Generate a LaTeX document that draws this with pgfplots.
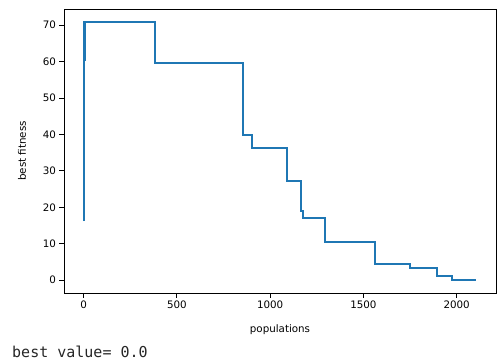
\documentclass[border=0pt]{standalone}
\usepackage{fontspec}
\setmainfont{DejaVu Sans}
\setmonofont{DejaVu Sans Mono}
\usepackage{pgfplots}
\pgfplotsset{compat=1.18}
\definecolor{mplblue}{HTML}{1F77B4}
\begin{document}
\begin{tikzpicture}[x=1bp,y=1bp]
\useasboundingbox (-64,-70) rectangle (433,293);
\begin{axis}[at={(0,0)}, anchor=south west, scale only axis,
  width=432bp, height=284bp,
  xmin=-105, xmax=2211, ymin=-3.55, ymax=74.45,
  xtick={0,500,1000,1500,2000}, ytick={0,10,20,30,40,50,60,70},
  xtick pos=bottom, ytick pos=left,
  tick align=outside, major tick length=4.5bp,
  tick style={black, line width=0.8bp},
  axis line style={line width=0.8bp},
  tick label style={font=\fontsize{10.3bp}{12bp}\selectfont},
  /pgf/number format/assume math mode=true,
  /pgf/number format/1000 sep={},
  xlabel={populations}, ylabel={best fitness},
  label style={font=\fontsize{10.3bp}{12bp}\selectfont},
  xlabel style={at={(axis description cs:0.5,-0.1303)}, anchor=center},
  ylabel style={at={(axis description cs:-0.0972,0.5)}, anchor=center},
]
\addplot[mplblue, line width=1.9bp, line join=miter] coordinates {
(0,16.2)(0,70.9)(7,70.9)(7,60.5)(9,60.5)(9,70.9)(385,70.9)(385,59.5)
(853,59.5)(853,39.8)(903,39.8)(903,36.2)(1089,36.2)(1089,27.3)
(1167,27.3)(1167,18.9)(1178,18.9)(1178,17.1)(1296,17.1)(1296,10.5)
(1564,10.5)(1564,4.4)(1752,4.4)(1752,3.2)(1897,3.2)(1897,1.2)
(1975,1.2)(1975,0.0)(2106,0.0)
};
\end{axis}
\node[anchor=base west, inner sep=0pt, text=black!85,
  font=\ttfamily\fontsize{15bp}{17bp}\selectfont] at (-52,-64) {best value= 0.0};
\end{tikzpicture}
\end{document}
